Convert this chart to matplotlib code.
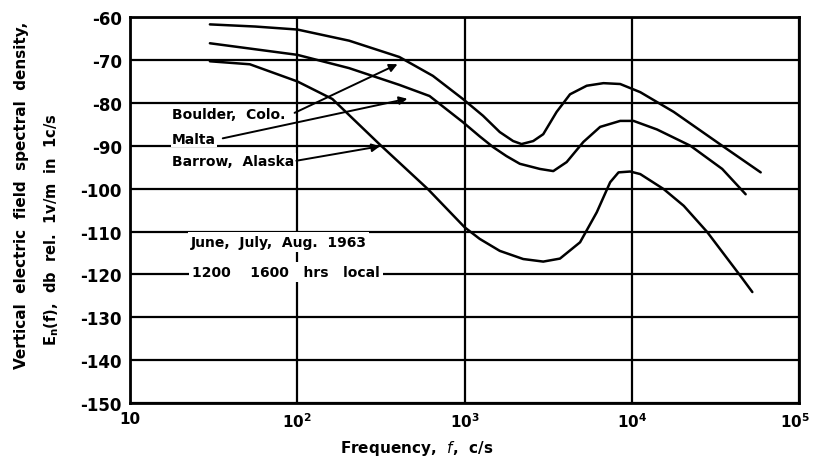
import numpy as np
import matplotlib.pyplot as plt
from matplotlib.transforms import ScaledTranslation

# curves (frequency in c/s, level in db)
boulder_f = [30, 56, 100, 204, 407, 646, 977, 1288, 1622, 1950, 2188, 2570,
             2951, 3548, 4266, 5370, 6761, 8511, 11220, 17780, 34670, 58880]
boulder_db = [-61.7, -62.2, -62.9, -65.5, -69.3, -73.7, -79.1, -83.0, -86.8,
              -88.9, -89.6, -88.9, -87.3, -82.1, -78.0, -76.0, -75.4, -75.6,
              -77.5, -82.1, -90.0, -96.2]

malta_f = [30, 100, 204, 407, 617, 977, 1230, 1479, 1778, 2138, 2818, 3388,
           4074, 5129, 6457, 8511, 10230, 14130, 22390, 34670, 47860]
malta_db = [-66.1, -68.8, -71.9, -75.8, -78.4, -84.5, -87.8, -90.3, -92.4,
            -94.2, -95.4, -95.9, -93.8, -89.1, -85.6, -84.2, -84.2, -86.2,
            -90.0, -95.4, -101.3]

barrow_f = [30, 52, 100, 162, 309, 603, 1000, 1230, 1622, 2239, 2951, 3715,
            4898, 6166, 7413, 8318, 9772, 11220, 15490, 20420, 28180, 44670,
            52480]
barrow_db = [-70.3, -71.0, -75.0, -79.1, -89.6, -100.1, -109.0, -111.7,
             -114.5, -116.4, -117.0, -116.3, -112.5, -105.5, -98.5, -96.2,
             -96.0, -96.6, -100.1, -104.0, -110.1, -120.4, -124.1]

y_ticks = [-60, -70, -80, -90, -100, -110, -120, -130, -140, -150]
x_ticks = [10, 100, 1000, 10000, 100000]
x_labels = ['10', r'$\mathbf{10^2}$', r'$\mathbf{10^3}$', r'$\mathbf{10^4}$',
            r'$\mathbf{10^5}$']

plt.rcParams['font.family'] = ['DejaVu Sans']
fig = plt.figure(figsize=(8.13, 4.64), dpi=100)
ax = fig.add_axes([0.16, 0.129, 0.823, 0.832])

ax.set_xscale('log')
ax.set_xlim(10, 1e5)
ax.set_ylim(-150, -60)

for y in y_ticks:
    ax.axhline(y, color='black', lw=1.6, zorder=1)
for x in x_ticks:
    ax.axvline(x, color='black', lw=1.6, zorder=1)

for f, db in [(boulder_f, boulder_db), (malta_f, malta_db), (barrow_f, barrow_db)]:
    ax.plot(f, db, color='black', lw=1.8, solid_capstyle='round',
            solid_joinstyle='round', zorder=3)

ax.set_yticks(y_ticks)
ax.set_yticklabels([str(v) for v in y_ticks], fontsize=12, fontweight='bold')
ax.set_xticks(x_ticks)
ax.set_xticklabels(x_labels, fontsize=11, fontweight='bold')
ax.xaxis.set_minor_locator(plt.NullLocator())
ax.tick_params(length=0, pad=6)
# last label sits at the figure edge, nudge it in a bit
last = ax.get_xticklabels()[-1]
last.set_transform(last.get_transform() + ScaledTranslation(-4 / 100, 0, fig.dpi_scale_trans))
for s in ax.spines.values():
    s.set_linewidth(2)

# station labels and arrows
lab_kw = dict(fontsize=10, fontweight='bold', va='center', ha='left', zorder=4,
              bbox=dict(facecolor='white', edgecolor='none', pad=1))
ax.text(17.8, -82.6, 'Boulder,  Colo.', **lab_kw)
ax.text(17.8, -88.4, 'Malta', **lab_kw)
ax.text(17.8, -93.6, 'Barrow,  Alaska', **lab_kw)
arr = dict(arrowstyle='-|>', color='black', lw=1.4, mutation_scale=12)
ax.annotate('', xy=(411, -70.7), xytext=(93, -82.6), arrowprops=arr, zorder=5)
ax.annotate('', xy=(472, -78.9), xytext=(34.5, -88.4), arrowprops=arr, zorder=5)
ax.annotate('', xy=(324, -90.0), xytext=(95, -93.6), arrowprops=arr, zorder=5)

note_kw = dict(fontsize=10, fontweight='bold', va='center', ha='left', zorder=4,
               bbox=dict(facecolor='white', edgecolor='none', pad=2))
ax.text(23, -112.4, 'June,  July,  Aug.  1963', **note_kw)
ax.text(23.5, -119.4, '1200    1600   hrs   local', **note_kw)

fig.text(0.512, 0.034, 'Frequency,  $\\it{f}$,  c/s', ha='center', va='center',
         fontsize=11, fontweight='bold')
fig.text(0.026, 0.58, 'Vertical  electric  field  spectral  density,',
         rotation=90, ha='center', va='center', fontsize=11, fontweight='bold')
fig.text(0.063, 0.505, r'E$_\mathbf{n}$(f),  db  rel.  1v/m  in  1c/s',
         rotation=90, ha='center', va='center', fontsize=10.5, fontweight='bold')

fig.savefig('out.png', dpi=100, facecolor='white')
